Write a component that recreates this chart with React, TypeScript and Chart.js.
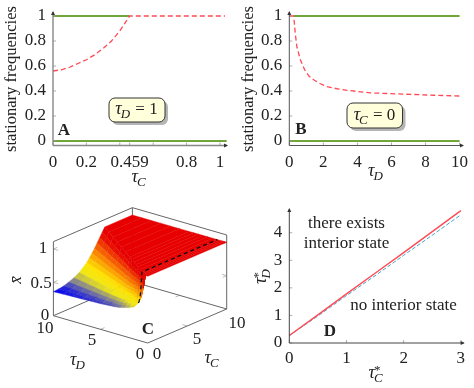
import React, { useEffect, useRef } from "react";
import { Chart, registerables } from "chart.js";

Chart.register(...registerables);

const W = 474;
const H = 388;
const SERIF = '"Liberation Serif", "Times New Roman", serif';
const GREEN = "#70a63a";
const RED = "#ff4a55";
const BLUE = "#45a5c5";
const FONT = 17;

// Panel A
const aTau = [0, 0.05, 0.1, 0.15, 0.2, 0.25, 0.3, 0.35, 0.4, 0.459, 0.6, 0.8, 1.03];
const aRed = [0.56, 0.57, 0.59, 0.62, 0.65, 0.69, 0.74, 0.8, 0.88, 1, 1, 1, 1];
const aGreenTopX = [0, 0.459];
const aGreenTopY = [1, 1];
const aGreenBottomX = [0, 1.04];
const aGreenBottomY = [0, 0];
const aTicks = [0, 0.2, 0.4, 0.459, 0.6, 0.8, 1];
const aTickLabels = ["0", "0.2", "", "0.459", "", "0.8", "1"];

// Panel B
const bTau = [0, 0.25, 0.3, 0.35, 0.45, 0.65, 0.9, 1.15, 1.43, 1.8, 2.2, 2.8, 3.4, 4.75, 6.7, 8.5, 10];
const bRed = [1, 1, 0.94, 0.86, 0.75, 0.65, 0.57, 0.52, 0.49, 0.46, 0.435, 0.418, 0.405, 0.385, 0.375, 0.366, 0.36];
const bGreenTopX = [0.25, 10];
const bGreenTopY = [1, 1];
const bGreenBottomX = [0, 10];
const bGreenBottomY = [0, 0];
const bTicks = [0, 2, 4, 6, 8, 10];

const yFreqTicks = [0, 0.2, 0.4, 0.6, 0.8, 1];

// Panel D
const dTauC = [0, 0.5, 1, 1.5, 2, 2.5, 3];
const dRed = [0.27, 1.02, 1.78, 2.53, 3.28, 4.04, 4.8];
const dBlue = [0.27, 0.98, 1.72, 2.44, 3.18, 3.91, 4.65];
const dXTicks = [0, 1, 2, 3];
const dYTicks = [0, 1, 2, 3, 4];

// Panel C: rows of tauD; each row rises from tauC = 0 to the crease where it reaches 1
const cTauD = [0.25, 0.5, 0.75, 1, 1.5, 2, 2.5, 3, 3.5, 4, 5, 6, 7, 8, 9, 10];
const cCrease = [0, 0.17, 0.33, 0.46, 0.83, 1.17, 1.5, 1.83, 2.17, 2.5, 3.17, 3.83, 4.5, 5.17, 5.83, 6.5];
const cFrac = [0, 0.1, 0.2, 0.3, 0.4, 0.5, 0.55, 0.6, 0.65, 0.7, 0.75, 0.8, 0.85, 0.9, 0.95, 1];
const cZ = [
  [1, 1, 1, 1, 1, 1, 1, 1, 1, 1, 1, 1, 1, 1, 1, 1],
  [0.8, 0.802, 0.806, 0.814, 0.824, 0.838, 0.847, 0.858, 0.87, 0.886, 0.902, 0.92, 0.94, 0.96, 0.98, 1],
  [0.64, 0.644, 0.651, 0.665, 0.683, 0.708, 0.725, 0.744, 0.766, 0.795, 0.824, 0.856, 0.892, 0.928, 0.964, 1],
  [0.56, 0.564, 0.573, 0.591, 0.613, 0.644, 0.663, 0.688, 0.714, 0.749, 0.784, 0.824, 0.868, 0.912, 0.956, 1],
  [0.48, 0.485, 0.496, 0.516, 0.542, 0.579, 0.602, 0.631, 0.662, 0.704, 0.745, 0.792, 0.844, 0.896, 0.948, 1],
  [0.45, 0.456, 0.467, 0.489, 0.516, 0.555, 0.579, 0.61, 0.643, 0.687, 0.731, 0.78, 0.835, 0.89, 0.945, 1],
  [0.43, 0.436, 0.447, 0.47, 0.498, 0.538, 0.564, 0.595, 0.63, 0.675, 0.721, 0.772, 0.829, 0.886, 0.943, 1],
  [0.41, 0.416, 0.428, 0.451, 0.481, 0.522, 0.549, 0.581, 0.617, 0.664, 0.711, 0.764, 0.823, 0.882, 0.941, 1],
  [0.4, 0.406, 0.418, 0.442, 0.472, 0.514, 0.541, 0.574, 0.61, 0.658, 0.706, 0.76, 0.82, 0.88, 0.94, 1],
  [0.395, 0.401, 0.413, 0.437, 0.468, 0.51, 0.537, 0.57, 0.607, 0.655, 0.704, 0.758, 0.819, 0.879, 0.94, 1],
  [0.385, 0.391, 0.403, 0.428, 0.459, 0.502, 0.53, 0.563, 0.6, 0.649, 0.699, 0.754, 0.816, 0.877, 0.939, 1],
  [0.38, 0.386, 0.399, 0.423, 0.454, 0.498, 0.526, 0.56, 0.597, 0.647, 0.696, 0.752, 0.814, 0.876, 0.938, 1],
  [0.375, 0.381, 0.394, 0.419, 0.45, 0.494, 0.522, 0.556, 0.594, 0.644, 0.694, 0.75, 0.813, 0.875, 0.938, 1],
  [0.37, 0.376, 0.389, 0.414, 0.446, 0.49, 0.518, 0.553, 0.591, 0.641, 0.691, 0.748, 0.811, 0.874, 0.937, 1],
  [0.365, 0.371, 0.384, 0.409, 0.441, 0.486, 0.514, 0.549, 0.587, 0.638, 0.689, 0.746, 0.81, 0.873, 0.937, 1],
  [0.36, 0.366, 0.379, 0.405, 0.437, 0.482, 0.51, 0.546, 0.584, 0.635, 0.686, 0.744, 0.808, 0.872, 0.936, 1],
];
const cPlateauEdge = 10;
const cPlateauZ = 1;
const cDashedRow = 3; // the tauD = 1 slice
const boxTop = 1.11;

const pts = (xs: number[], ys: number[]) => xs.map((x, i) => ({ x, y: ys[i] }));

function setFont(ctx: CanvasRenderingContext2D, size: number, style = "") {
  ctx.font = `${style} ${size}px ${SERIF}`;
}

function text(ctx: CanvasRenderingContext2D, s: string, x: number, y: number, size = FONT, style = "", color = "#222") {
  setFont(ctx, size, style);
  ctx.fillStyle = color;
  ctx.textAlign = "center";
  ctx.textBaseline = "middle";
  ctx.fillText(s, x, y);
}

// Draws tau with an italic subscript (and optional star) centred at x, y
function tau(ctx: CanvasRenderingContext2D, sub: string, x: number, y: number, star = false, after = "") {
  ctx.save();
  ctx.translate(x, y);
  ctx.fillStyle = "#222";
  ctx.textBaseline = "alphabetic";
  ctx.textAlign = "left";
  setFont(ctx, 18, "italic");
  const w1 = ctx.measureText("τ").width;
  setFont(ctx, 13, "italic");
  const w2 = ctx.measureText(sub).width;
  setFont(ctx, 17);
  const w3 = after ? ctx.measureText(after).width : 0;
  let cx = -(w1 + w2 + w3) / 2;
  setFont(ctx, 18, "italic");
  ctx.fillText("τ", cx, 4);
  cx += w1;
  setFont(ctx, 13, "italic");
  ctx.fillText(sub, cx - 1, 8);
  if (star) {
    setFont(ctx, 13);
    ctx.fillText("*", cx - 1, 0);
  }
  cx += w2;
  if (after) {
    setFont(ctx, 17);
    ctx.fillText(after, cx, 4);
  }
  ctx.restore();
}

function noteBox(ctx: CanvasRenderingContext2D, x: number, y: number, w: number, h: number) {
  ctx.save();
  ctx.fillStyle = "rgba(120,120,120,0.55)";
  ctx.beginPath();
  ctx.roundRect(x + 3, y + 3, w, h, 6);
  ctx.fill();
  ctx.fillStyle = "#ffffdc";
  ctx.strokeStyle = "#333";
  ctx.lineWidth = 1;
  ctx.beginPath();
  ctx.roundRect(x, y, w, h, 6);
  ctx.fill();
  ctx.stroke();
  ctx.restore();
}

function axesPlugin(color: string, lw: number, extra: (ctx: CanvasRenderingContext2D, c: any) => void) {
  return {
    id: "axesOverlay",
    afterDraw(c: any) {
      const ctx: CanvasRenderingContext2D = c.ctx;
      const { left, right, top, bottom } = c.chartArea;
      ctx.save();
      ctx.strokeStyle = "#999";
      ctx.lineWidth = 0.8;
      c.scales.x.ticks.forEach((t: any) => {
        const px = c.scales.x.getPixelForValue(t.value);
        ctx.beginPath();
        ctx.moveTo(px, bottom);
        ctx.lineTo(px, bottom - 3);
        ctx.stroke();
      });
      c.scales.y.ticks.forEach((t: any) => {
        const py = c.scales.y.getPixelForValue(t.value);
        ctx.beginPath();
        ctx.moveTo(left, py);
        ctx.lineTo(left + 3, py);
        ctx.stroke();
      });
      ctx.strokeStyle = color;
      ctx.fillStyle = "#333";
      ctx.lineWidth = lw;
      ctx.beginPath();
      ctx.moveTo(left, bottom);
      ctx.lineTo(right, bottom);
      ctx.moveTo(left, bottom);
      ctx.lineTo(left, top);
      ctx.stroke();
      ctx.beginPath();
      ctx.moveTo(right + 1, bottom);
      ctx.lineTo(right - 3, bottom - 2);
      ctx.lineTo(right - 3, bottom + 2);
      ctx.closePath();
      ctx.moveTo(left, top - 1);
      ctx.lineTo(left - 2, top + 3);
      ctx.lineTo(left + 2, top + 3);
      ctx.closePath();
      ctx.fill();
      ctx.restore();
      extra(ctx, c);
    },
  };
}

function planarConfig(opts: {
  datasets: any[];
  box: { left: number; right: number; top: number; bottom: number };
  x: { min: number; max: number; ticks: number[]; labels?: string[] };
  y: { min: number; max: number; ticks: number[] };
  xPad: number;
  plugin: any;
}) {
  const mk = (s: { min: number; max: number; ticks: number[]; labels?: string[] }, isX: boolean) => ({
    type: "linear",
    min: s.min,
    max: s.max,
    grid: { display: false, drawTicks: false },
    border: { display: false },
    afterFit: (sc: any) => {
      if (isX) sc.height = H - opts.box.bottom;
      else sc.width = opts.box.left;
      sc.paddingTop = 0;
      sc.paddingBottom = 0;
      sc.paddingLeft = 0;
      sc.paddingRight = 0;
    },
    afterBuildTicks: (sc: any) => {
      sc.ticks = s.ticks.map((v) => ({ value: v }));
    },
    ticks: {
      autoSkip: false,
      maxRotation: 0,
      minRotation: 0,
      padding: isX ? opts.xPad : 7,
      color: "#222",
      font: { family: SERIF, size: FONT },
      callback: (v: number) => {
        if (s.labels) return s.labels[s.ticks.indexOf(v)] ?? "";
        return String(v);
      },
    },
  });
  return {
    type: "scatter",
    data: { datasets: opts.datasets },
    plugins: [opts.plugin],
    options: {
      animation: false,
      responsive: false,
      events: [],
      layout: { padding: { left: 0, bottom: 0, right: W - opts.box.right, top: opts.box.top } },
      plugins: { legend: { display: false }, tooltip: { enabled: false } },
      scales: { x: mk(opts.x, true), y: mk(opts.y, false) },
    },
  };
}

const lineDs = (data: { x: number; y: number }[], color: string, width: number, dash: number[] = []) => ({
  data,
  showLine: true,
  pointRadius: 0,
  borderColor: color,
  borderWidth: width,
  borderDash: dash,
  tension: 0,
  clip: false,
  fill: false,
});

function configA() {
  return planarConfig({
    datasets: [
      lineDs(pts(aTau, aRed), RED, 1.3, [5, 3]),
      lineDs(pts(aGreenTopX, aGreenTopY), GREEN, 1.8),
      lineDs(pts(aGreenBottomX, aGreenBottomY), GREEN, 2.2),
    ],
    box: { left: 53, right: 227, top: 12, bottom: 145.5 },
    x: { min: 0, max: 1.042, ticks: aTicks, labels: aTickLabels },
    y: { min: -0.036, max: 1.032, ticks: yFreqTicks },
    xPad: 6.5,
    plugin: axesPlugin("#888", 1.4, (ctx) => {
      ctx.save();
      ctx.translate(12, 79);
      ctx.rotate(-Math.PI / 2);
      text(ctx, "stationary frequencies", 0, 0, 16.6);
      ctx.restore();
      tau(ctx, "C", 139, 178);
      text(ctx, "A", 64, 131, FONT, "bold");
      noteBox(ctx, 109, 98, 56, 24);
      tau(ctx, "D", 136.5, 110, false, " = 1");
    }),
  });
}

function configB() {
  return planarConfig({
    datasets: [
      lineDs(pts(bTau, bRed), RED, 1.3, [5, 3]),
      lineDs(pts(bGreenTopX, bGreenTopY), GREEN, 1.8),
      lineDs(pts(bGreenBottomX, bGreenBottomY), GREEN, 2.2),
    ],
    box: { left: 289.3, right: 463, top: 12, bottom: 145.5 },
    x: { min: 0, max: 10.2, ticks: bTicks },
    y: { min: -0.036, max: 1.032, ticks: yFreqTicks },
    xPad: 6.5,
    plugin: axesPlugin("#555", 1, (ctx) => {
      ctx.save();
      ctx.translate(249, 79);
      ctx.rotate(-Math.PI / 2);
      text(ctx, "stationary frequencies", 0, 0, 16.6);
      ctx.restore();
      tau(ctx, "D", 376, 172);
      text(ctx, "B", 301, 130, FONT, "bold");
      noteBox(ctx, 347, 103, 55.5, 25);
      tau(ctx, "C", 374.5, 115.5, false, " = 0");
    }),
  });
}

function configD() {
  return planarConfig({
    datasets: [lineDs(pts(dTauC, dRed), RED, 1.4), lineDs(pts(dTauC, dBlue), BLUE, 1, [4, 2])],
    box: { left: 289.3, right: 463.7, top: 209, bottom: 343 },
    x: { min: 0, max: 3.05, ticks: dXTicks },
    y: { min: 0, max: 4.86, ticks: dYTicks },
    xPad: 5,
    plugin: axesPlugin("#444", 1, (ctx) => {
      text(ctx, "there exists", 346.5, 223.5);
      text(ctx, "interior state", 346.5, 244);
      text(ctx, "no interior state", 403.5, 305.5);
      text(ctx, "D", 330, 332, FONT, "bold");
      tau(ctx, "C", 376, 374, true);
      ctx.save();
      ctx.translate(262, 276);
      ctx.rotate(-Math.PI / 2);
      tau(ctx, "D", 0, 0, true);
      ctx.restore();
    }),
  });
}

// Oblique 3D view of (tauC, tauD, z) in chart units
const projX = (tc: number, td: number) => 7.9 * tc - 9.43 * td;
const projY = (tc: number, td: number, z: number) => 3.4 * tc + 2.73 * td + 66.7 * z;
const P = (tc: number, td: number, z: number) => ({ x: projX(tc, td), y: projY(tc, td, z) });

const PALETTE: [number, number[]][] = [
  [0.36, [0, 0, 245]],
  [0.415, [125, 125, 150]],
  [0.485, [240, 232, 20]],
  [0.57, [255, 228, 0]],
  [0.74, [250, 120, 0]],
  [0.93, [232, 0, 0]],
  [1, [232, 0, 0]],
];

function colour(z: number, k = 1) {
  let a = PALETTE[0];
  let b = PALETTE[PALETTE.length - 1];
  for (let i = 0; i < PALETTE.length - 1; i++) {
    if (z >= PALETTE[i][0] && z <= PALETTE[i + 1][0]) {
      a = PALETTE[i];
      b = PALETTE[i + 1];
      break;
    }
  }
  const t = Math.max(0, Math.min(1, (z - a[0]) / (b[0] - a[0])));
  const c = a[1].map((v, i) => Math.round((v + (b[1][i] - v) * t) * k));
  return `rgb(${c[0]},${c[1]},${c[2]})`;
}

const facet = (poly: { x: number; y: number }[], z: number) => ({
  data: [...poly, poly[0]],
  showLine: true,
  pointRadius: 0,
  tension: 0,
  clip: false,
  fill: "shape",
  backgroundColor: colour(z),
  borderColor: colour(z, 0.97),
  borderWidth: 0.4,
});

function configC() {
  const boxColor = "#666";
  const tickColor = "#aaa";
  const under: any[] = [];
  const seg = (a: any, b: any, col: string, w: number) => under.push(lineDs([a, b], col, w));
  const T = boxTop;
  // floor and walls of the box
  seg(P(0, 0, 0), P(0, 10, 0), boxColor, 1);
  seg(P(0, 0, 0), P(10, 0, 0), boxColor, 1);
  seg(P(0, 10, 0), P(10, 10, 0), boxColor, 1);
  seg(P(10, 0, 0), P(10, 10, 0), boxColor, 1);
  seg(P(0, 10, 0), P(0, 10, T), boxColor, 1);
  seg(P(10, 0, 0), P(10, 0, T), boxColor, 1);
  seg(P(10, 10, 0), P(10, 10, T), boxColor, 1);
  seg(P(0, 10, T), P(10, 10, T), boxColor, 1);
  seg(P(10, 0, T), P(10, 10, T), boxColor, 1);
  // inward ticks
  [0.5, 1].forEach((z) => {
    seg(P(0, 10, z), P(0.5, 10, z), tickColor, 0.8);
    seg(P(0, 10, z), P(0, 9.5, z), tickColor, 0.8);
    seg(P(10, 0, z), P(9.5, 0, z), tickColor, 0.8);
    seg(P(10, 0, z), P(10, 0.5, z), tickColor, 0.8);
  });
  seg(P(0, 5, 0), P(0.5, 5, 0), tickColor, 0.8);
  seg(P(10, 5, 0), P(9.5, 5, 0), tickColor, 0.8);
  seg(P(5, 0, 0), P(5, 0.5, 0), tickColor, 0.8);
  seg(P(5, 10, 0), P(5, 9.5, 0), tickColor, 0.8);

  const paint: any[] = [];
  // the flat top, row by row
  const top = cPlateauZ;
  for (let r = cTauD.length - 2; r >= 0; r--) {
    paint.push(
      facet(
        [
          P(cCrease[r], cTauD[r], top),
          P(cPlateauEdge, cTauD[r], top),
          P(cPlateauEdge, cTauD[r + 1], top),
          P(cCrease[r + 1], cTauD[r + 1], top),
        ],
        top
      )
    );
  }
  paint.push(
    facet([P(0, 0, top), P(cPlateauEdge, 0, top), P(cPlateauEdge, cTauD[0], top), P(cCrease[0], cTauD[0], top)], top)
  );
  // the slope, painted from the back corner to the front corner
  for (let r = cTauD.length - 2; r >= 0; r--) {
    for (let k = cFrac.length - 2; k >= 0; k--) {
      const z = [cZ[r][k], cZ[r][k + 1], cZ[r + 1][k + 1], cZ[r + 1][k]];
      paint.push(
        facet(
          [
            P(cCrease[r] * cFrac[k], cTauD[r], z[0]),
            P(cCrease[r] * cFrac[k + 1], cTauD[r], z[1]),
            P(cCrease[r + 1] * cFrac[k + 1], cTauD[r + 1], z[2]),
            P(cCrease[r + 1] * cFrac[k], cTauD[r + 1], z[3]),
          ],
          (z[0] + z[1] + z[2] + z[3]) / 4
        )
      );
    }
  }
  const dashed = lineDs(
    [
      ...cFrac.map((f, k) => P(cCrease[cDashedRow] * f, cTauD[cDashedRow], cZ[cDashedRow][k])),
      P(cPlateauEdge, cTauD[cDashedRow], top),
    ],
    "#111",
    1.3,
    [4, 3]
  );
  // the library paints the first dataset last, so the list runs top layer first
  const datasets = [dashed, ...paint.reverse(), ...under];
  const plugin = {
    id: "labelsC",
    afterDraw(c: any) {
      const ctx: CanvasRenderingContext2D = c.ctx;
      text(ctx, "1", 43, 249);
      text(ctx, "0.5", 41, 284);
      text(ctx, "0", 45, 316);
      text(ctx, "10", 45, 329);
      text(ctx, "5", 92, 341);
      text(ctx, "0", 140, 355);
      text(ctx, "0", 157, 355);
      text(ctx, "5", 197, 340);
      text(ctx, "10", 237, 324);
      text(ctx, "C", 148, 330, FONT, "bold");
      tau(ctx, "D", 78, 361);
      tau(ctx, "C", 212, 359);
      ctx.save();
      ctx.translate(17, 280);
      ctx.rotate(-Math.PI / 2);
      text(ctx, "x̄", 0, 0, FONT, "italic");
      ctx.restore();
    },
  };
  return {
    type: "scatter",
    data: { datasets },
    plugins: [plugin],
    options: {
      animation: false,
      responsive: false,
      events: [],
      plugins: { legend: { display: false }, tooltip: { enabled: false } },
      scales: {
        x: { type: "linear", display: false, min: -147.7, max: W - 147.7 },
        y: { type: "linear", display: false, min: 343 - H, max: 343 },
      },
    },
  };
}

const builders = [configC, configA, configB, configD];

function Panel({ build }: { build: () => any }) {
  const ref = useRef<HTMLCanvasElement | null>(null);
  useEffect(() => {
    const chart = new Chart(ref.current as HTMLCanvasElement, build());
    return () => chart.destroy();
  }, [build]);
  return (
    <canvas
      ref={ref}
      width={W}
      height={H}
      style={{ position: "absolute", left: 0, top: 0, width: W, height: H, display: "block" }}
    />
  );
}

export default function App() {
  return (
    <div style={{ position: "absolute", left: 0, top: 0, width: W, height: H, background: "#fff", overflow: "hidden" }}>
      {builders.map((b, i) => (
        <Panel key={i} build={b} />
      ))}
    </div>
  );
}
